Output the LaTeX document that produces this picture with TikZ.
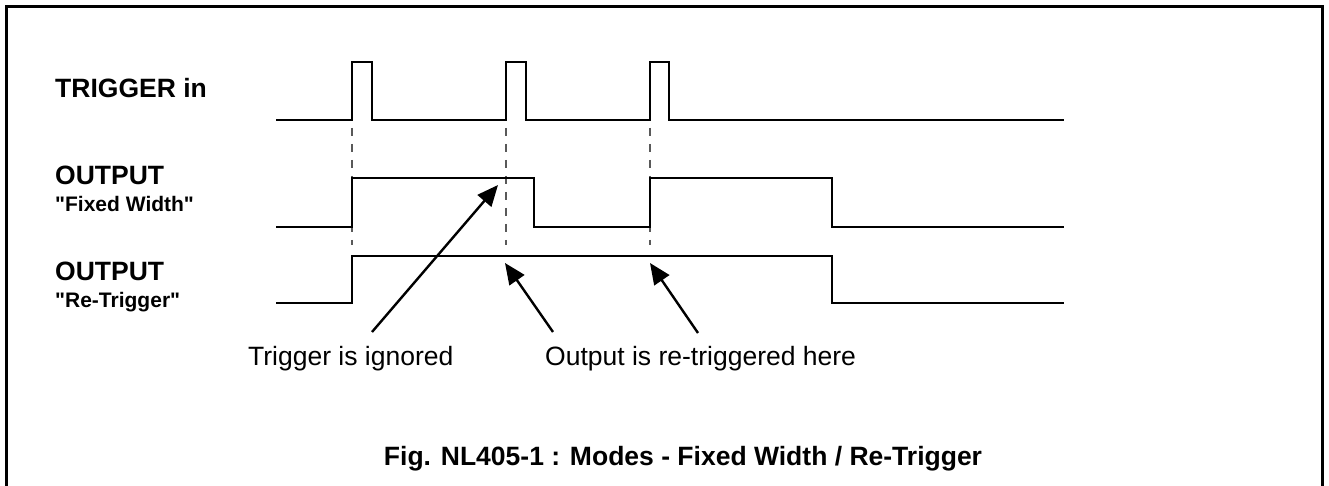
\documentclass[tikz,border=0pt]{standalone}
\usepackage{fontspec}
\setmainfont{Liberation Sans}
\usepackage{tikz}
\usetikzlibrary{arrows.meta,positioning,calc}
\tikzset{
  wave/.style={line width=2.6pt, line join=miter},
  guide/.style={line width=1.3pt, gray!70!black, dash pattern=on 8pt off 8pt},
  pointer/.style={line width=2.4pt, -{Triangle[length=21pt,width=18pt]}},
  siglabel/.style={font=\fontsize{26.5}{30}\selectfont\bfseries, anchor=base west, inner sep=0pt},
  sublabel/.style={font=\fontsize{21}{24}\selectfont\bfseries, anchor=base west, inner sep=0pt},
  note/.style={font=\fontsize{26.5}{30}\selectfont, anchor=base west, inner sep=0pt},
}

\begin{document}
\begin{tikzpicture}[yscale=-1, x=1pt, y=1pt]
\useasboundingbox (0,0) rectangle (1329,486);
% frame (open at the bottom)
\draw[line width=3pt] (6.5,486) -- (6.5,6.5) -- (1322.5,6.5) -- (1322.5,486);
% signal names
\node[siglabel] (trig) at (55,98) {TRIGGER in};
\node[siglabel] (outfw) at (55,185) {OUTPUT};
\node[sublabel] (fw) at (55,212) {\textquotedbl Fixed Width\textquotedbl};
\node[siglabel] (outrt) at (55,280) {OUTPUT};
\node[sublabel] (rt) at (55,307) {\textquotedbl Re-Trigger\textquotedbl};
% guides at the trigger edges
\foreach \t in {352,506,650}
  \draw[guide] (\t,128) -- (\t,245);
% trigger in
\draw[wave] (276,120) -- (352,120) -- (352,62) -- (372,62) -- (372,120) -- (506,120) -- (506,62) -- (526,62) -- (526,120) -- (650,120) -- (650,62) -- (669,62) -- (669,120) -- (1064,120);
% output, fixed width
\draw[wave] (276,227) -- (352,227) -- (352,178) -- (534,178) -- (534,227) -- (650,227) -- (650,178) -- (832,178) -- (832,227) -- (1064,227);
% output, re-trigger
\draw[wave] (276,303) -- (352,303) -- (352,256) -- (832,256) -- (832,303) -- (1064,303);
% notes and pointers
\node[note] (ignored) at (248,365) {Trigger is ignored};
\node[note] (again) at (545,365) {Output is re-triggered here};
\coordinate (ig tail) at (372,332); \coordinate (ig tip) at (498,185);
\coordinate (rt tail1) at (553,332); \coordinate (rt tip1) at (505,263);
\coordinate (rt tail2) at (698,333); \coordinate (rt tip2) at (650,263);
\draw[pointer] (ig tail) -- (ig tip);
\draw[pointer] (rt tail1) -- (rt tip1);
\draw[pointer] (rt tail2) -- (rt tip2);
% caption
\node[font=\fontsize{26.5}{30}\selectfont\bfseries, anchor=base, inner sep=0pt] (caption) at (683,465) {Fig. NL405-1 : Modes - Fixed Width / Re-Trigger};
\end{tikzpicture}
\end{document}
